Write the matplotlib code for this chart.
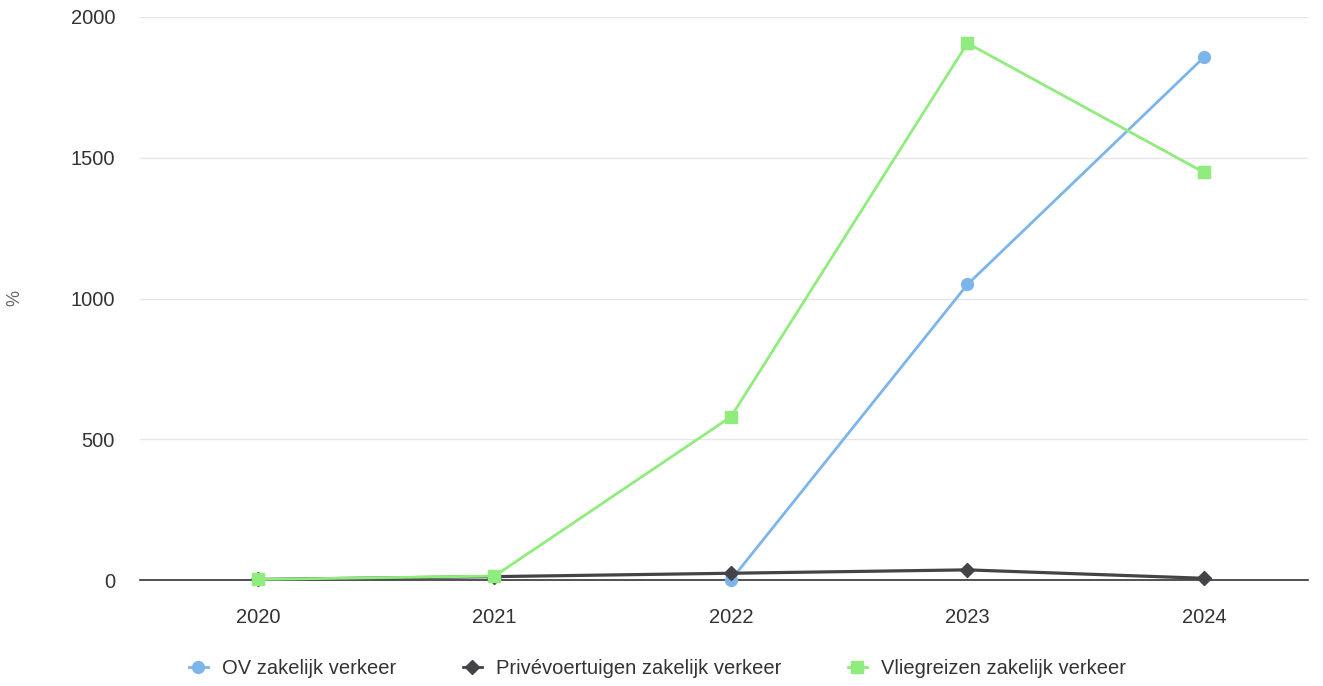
import numpy as np
import matplotlib
matplotlib.use("Agg")
import matplotlib.pyplot as plt
from matplotlib.lines import Line2D

plt.rcParams['font.family'] = ['Liberation Sans', 'DejaVu Sans']

years = ["2020", "2021", "2022", "2023", "2024"]
ov_values = [np.nan, np.nan, 0, 1050, 1857]
prive_values = [2, 12, 24, 36, 6]
vlieg_values = [2, 14, 580, 1907, 1448]

series_names = ["OV zakelijk verkeer", "Privévoertuigen zakelijk verkeer",
                "Vliegreizen zakelijk verkeer"]

BLUE = "#7cb5ec"
DARK = "#434348"
GREEN = "#90ed7d"
FS = 14.5

fig = plt.figure(figsize=(13.23, 6.86), dpi=100)
ax = fig.add_axes([140 / 1323, 1 - 580 / 686, 1168 / 1323, 563 / 686])

x = np.arange(len(years))
ax.plot(x, ov_values, color=BLUE, lw=2, marker='o', ms=8.5, clip_on=False, zorder=3)
ax.plot(x, prive_values, color=DARK, lw=2.3, marker='D', ms=7, clip_on=False, zorder=3)
ax.plot(x, vlieg_values, color=GREEN, lw=2, marker='s', ms=9, clip_on=False, zorder=4)

ax.set_xlim(-0.499, 4.44)
ax.set_ylim(0, 2000)
ax.set_yticks([0, 500, 1000, 1500, 2000])
ax.set_xticks(x)
ax.set_xticklabels(years)
ax.grid(axis='y', color='#e6e6e6', lw=1)
ax.set_axisbelow(True)
for side in ['top', 'right', 'left']:
    ax.spines[side].set_visible(False)
ax.spines['bottom'].set_color('#333333')
ax.spines['bottom'].set_linewidth(1.2)
ax.tick_params(axis='both', length=0, labelsize=FS, colors='#333333')
ax.tick_params(axis='y', pad=18)
ax.tick_params(axis='x', pad=20)

# y axis title sits at the far left edge
fig.text(15 / 1323, 1 - 298 / 686, "%", rotation=90, ha='center', va='center',
         fontsize=13, color='#666666')

handles = [
    Line2D([], [], color=BLUE, lw=2, marker='o', ms=8.5),
    Line2D([], [], color=DARK, lw=2, marker='D', ms=7),
    Line2D([], [], color=GREEN, lw=2, marker='s', ms=9),
]
fig.legend(handles, series_names, loc='center', bbox_to_anchor=(0.497, 1 - 669 / 686),
           ncol=3, frameon=False, fontsize=FS, handlelength=0.95,
           columnspacing=3.3, handletextpad=0.7, labelcolor='#333333')

fig.savefig("out.png", dpi=100)
